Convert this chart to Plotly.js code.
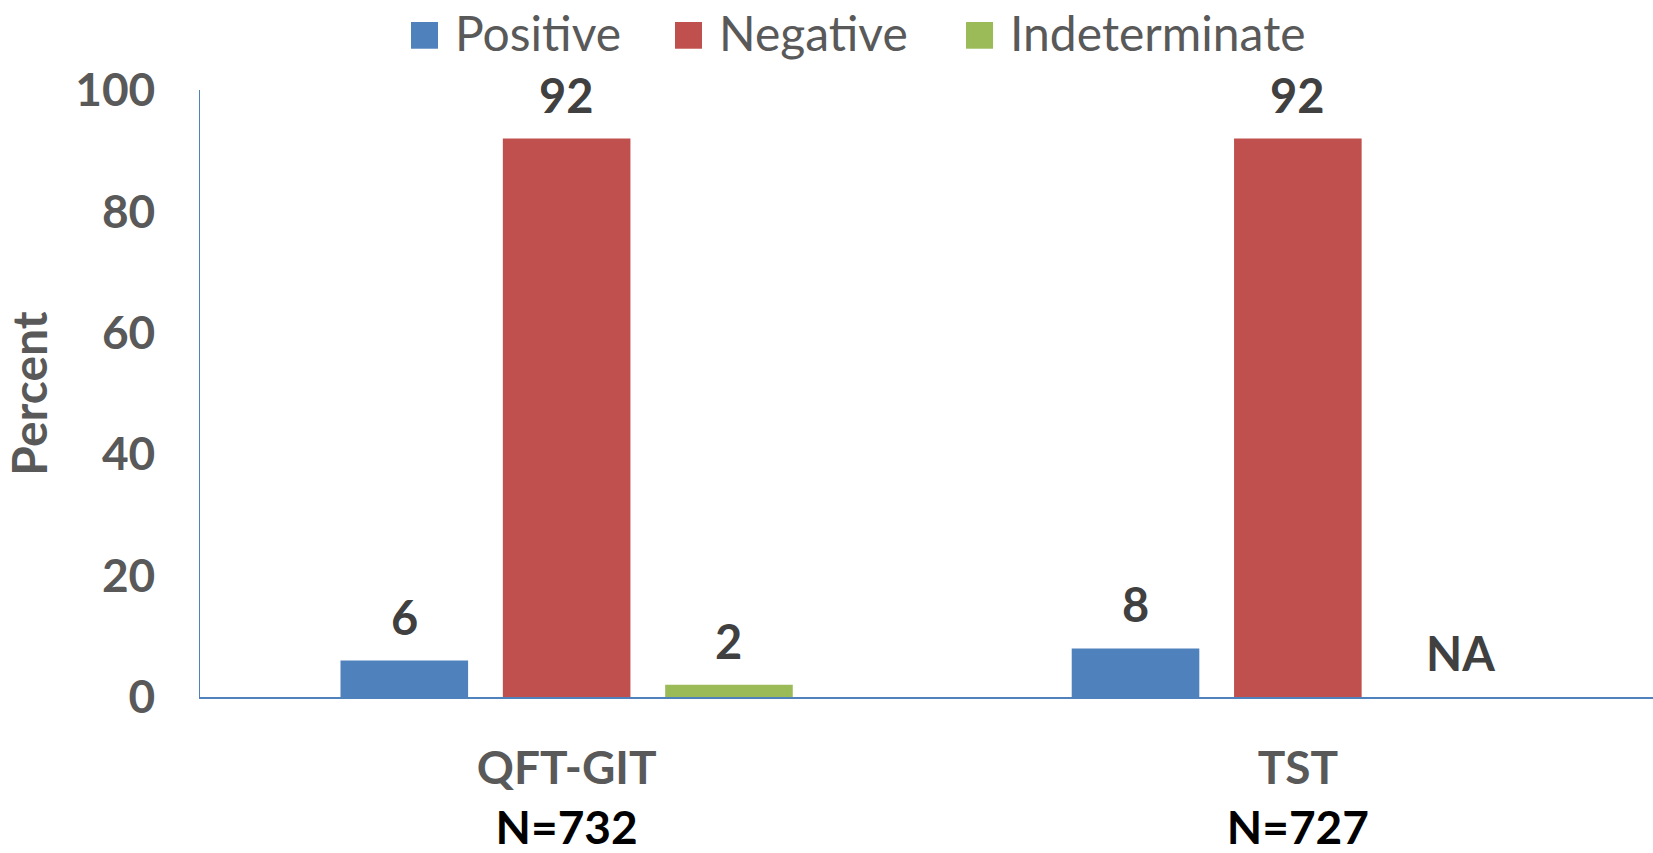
<!DOCTYPE html>
<html>
<head>
<meta charset="utf-8">
<script src="https://cdn.plot.ly/plotly-3.0.1.min.js"></script>
<style>
  html, body { margin: 0; padding: 0; background: #ffffff; }
  #chart { width: 1653px; height: 853px; }
</style>
</head>
<body>
<div id="chart"></div>
<script>
// Test result distribution by test type
const categories = ['QFT-GIT', 'TST'];
const sampleSizes = [732, 727];
const seriesNames = ['Positive', 'Negative', 'Indeterminate'];
const positive = [6, 8];
const negative = [92, 92];
const indeterminate = [2, null];   // not applicable for TST
const seriesColors = ['#4F81BD', '#C0504D', '#9BBB59'];

const seriesValues = [positive, negative, indeterminate];

const BOLD = 'Lato, "Open Sans", sans-serif';
const BAR_GAP = 0.334;
const BAR_GROUP_GAP = 0.214;

const traces = seriesValues.map((vals, i) => ({
  type: 'bar',
  name: seriesNames[i],
  x: categories,
  y: vals,
  marker: { color: seriesColors[i] },
  showlegend: false,
  hoverinfo: 'x+y+name'
}));

// Value labels placed above each bar (NA where no value exists)
const nSeries = seriesValues.length;
const slot = (1 - BAR_GAP) / nSeries;
const annotations = [];
seriesValues.forEach((vals, s) => {
  vals.forEach((v, c) => {
    annotations.push({
      xref: 'x', yref: 'y',
      x: c + (s - (nSeries - 1) / 2) * slot,
      y: v == null ? 0 : v,
      text: '<b>' + (v == null ? 'NA' : v) + '</b>',
      showarrow: false,
      yanchor: 'middle',
      yshift: 44,
      font: { family: BOLD, size: 47, color: '#404040' }
    });
  });
});

// Legend drawn as large square swatches with labels along the top
const legendSwatchX = [0.1452, 0.3269, 0.5272];
const swatchW = 0.0186;
const shapes = [];
seriesNames.forEach((name, i) => {
  shapes.push({
    type: 'rect', xref: 'paper', yref: 'paper',
    x0: legendSwatchX[i], x1: legendSwatchX[i] + swatchW,
    y0: 1.068, y1: 1.112,
    fillcolor: seriesColors[i], line: { width: 0 }
  });
  annotations.push({
    xref: 'paper', yref: 'paper',
    x: legendSwatchX[i] + swatchW + 0.010, y: 1.094,
    xanchor: 'left', yanchor: 'middle',
    text: name, showarrow: false,
    font: { family: 'Lato, "Open Sans", sans-serif', size: 48, color: '#595959' }
  });
});

const tickText = categories.map((c, i) =>
  '<b>' + c + '</b><br><span style="color:#000000"><b>N=' + sampleSizes[i] + '</b></span>');

const layout = {
  width: 1653,
  height: 853,
  margin: { l: 200, r: 0, t: 90, b: 156 },
  paper_bgcolor: '#ffffff',
  plot_bgcolor: '#ffffff',
  barmode: 'group',
  bargap: BAR_GAP,
  bargroupgap: BAR_GROUP_GAP,
  showlegend: false,
  xaxis: {
    type: 'category',
    range: [-0.5014, 1.4857],
    tickvals: categories,
    ticktext: tickText,
    showgrid: false,
    zeroline: false,
    showline: true,
    linecolor: '#4F81BD',
    linewidth: 1.5,
    ticks: '',
    ticklabelstandoff: 30,
    tickfont: { family: BOLD, size: 46, color: '#595959' },
    fixedrange: true
  },
  yaxis: {
    range: [0, 100],
    tickvals: [0, 20, 40, 60, 80, 100],
    ticktext: ['<b>0</b>', '<b>20</b>', '<b>40</b>', '<b>60</b>', '<b>80</b>', '<b>100</b>'],
    showgrid: false,
    zeroline: false,
    showline: true,
    linecolor: '#4F81BD',
    linewidth: 1.5,
    ticks: '',
    ticklabelstandoff: 34,
    tickfont: { family: BOLD, size: 46, color: '#595959' },
    title: {
      text: '<b>Percent</b>',
      font: { family: BOLD, size: 48, color: '#595959' },
      standoff: 16
    },
    fixedrange: true
  },
  shapes: shapes,
  annotations: annotations
};

Plotly.newPlot('chart', traces, layout, { displayModeBar: false, staticPlot: true });
</script>
</body>
</html>
